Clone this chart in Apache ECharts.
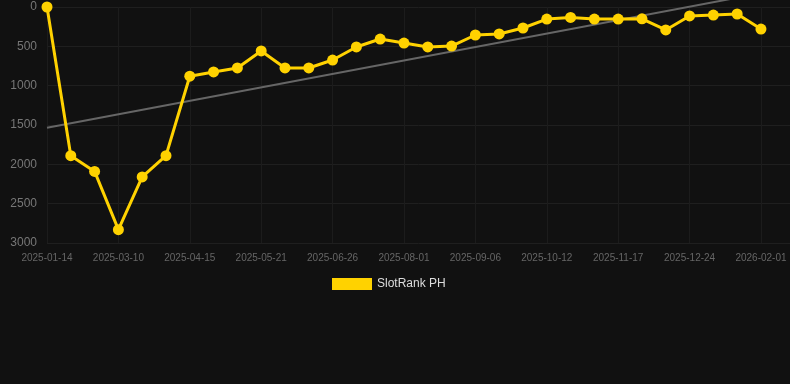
<!DOCTYPE html>
<html>
<head>
<meta charset="utf-8">
<script src="https://cdn.jsdelivr.net/npm/echarts@6/dist/echarts.min.js"></script>
<style>
html,body{margin:0;padding:0;background:#111111;}
#c{width:790px;height:384px;}
</style>
</head>
<body>
<div id="c"></div>
<script>
var dates = ["2025-01-14","2025-02-01","2025-02-19","2025-03-10","2025-03-22","2025-04-03","2025-04-15","2025-04-27","2025-05-09","2025-05-21","2025-06-02","2025-06-14","2025-06-26","2025-07-08","2025-07-20","2025-08-01","2025-08-13","2025-08-25","2025-09-06","2025-09-18","2025-09-30","2025-10-12","2025-10-24","2025-11-05","2025-11-17","2025-11-29","2025-12-11","2025-12-24","2026-01-05","2026-01-18","2026-02-01"];
var rankValues = [0,1890,2090,2830,2160,1890,880,826,775,559,775,775,674,508,407,458,508,496,356,343,267,153,133,153,153,150,292,114,102,89,280];
var yTicks = [0,500,1000,1500,2000,2500,3000];
var seriesName = "SlotRank PH";

var n = rankValues.length;
var mx = 0, my = 0;
for (var i = 0; i < n; i++) { mx += i; my += rankValues[i]; }
mx /= n; my /= n;
var sxy = 0, sxx = 0;
for (var i = 0; i < n; i++) { sxy += (i - mx) * (rankValues[i] - my); sxx += (i - mx) * (i - mx); }
var slope = sxy / sxx, icpt = my - slope * mx;
var trendData = [[0, icpt], [n - 1, icpt + slope * (n - 1)]];
var lineData = rankValues.map(function (v, i) { return [i, v]; });

var chart = echarts.init(document.getElementById('c'));
chart.setOption({
  backgroundColor: '#111111',
  animation: false,
  textStyle: { fontFamily: 'Liberation Sans, Arial, sans-serif' },
  grid: { left: 47, right: 0, top: 7, bottom: 141, containLabel: false },
  legend: {
    data: [seriesName],
    top: 273,
    left: 327,
    itemWidth: 40,
    itemHeight: 12,
    itemGap: 10,
    icon: 'rect',
    textStyle: { color: '#dddddd', fontSize: 12 }
  },
  xAxis: {
    type: 'value',
    min: 0,
    max: 31.22,
    interval: 3,
    axisLine: { show: false },
    axisTick: { show: false },
    splitLine: { show: true, lineStyle: { color: '#1c1c1c', width: 1 } },
    axisLabel: {
      color: '#666666', fontSize: 10, margin: 10, showMaxLabel: false,
      formatter: function (v) { var k = Math.round(v); return (k >= 0 && k < dates.length) ? dates[k] : ''; }
    }
  },
  yAxis: {
    type: 'value',
    inverse: true,
    min: yTicks[0],
    max: yTicks[yTicks.length - 1],
    interval: 500,
    axisLine: { show: false },
    axisTick: { show: false },
    splitLine: { show: true, lineStyle: { color: '#1f1f1f', width: 1 } },
    axisLabel: { color: '#777777', fontSize: 12, margin: 10, formatter: function (v) { return String(v); } }
  },
  series: [
    {
      name: seriesName,
      type: 'line',
      data: lineData,
      color: '#FFD200',
      lineStyle: { width: 3, color: '#FFD200' },
      symbol: 'circle',
      symbolSize: 11,
      itemStyle: { color: '#FFD200' },
      z: 3
    },
    {
      name: 'trend',
      type: 'line',
      data: trendData,
      symbol: 'none',
      clip: false,
      lineStyle: { width: 2, color: '#666666' },
      z: 2,
      silent: true
    }
  ]
});
</script>
</body>
</html>
